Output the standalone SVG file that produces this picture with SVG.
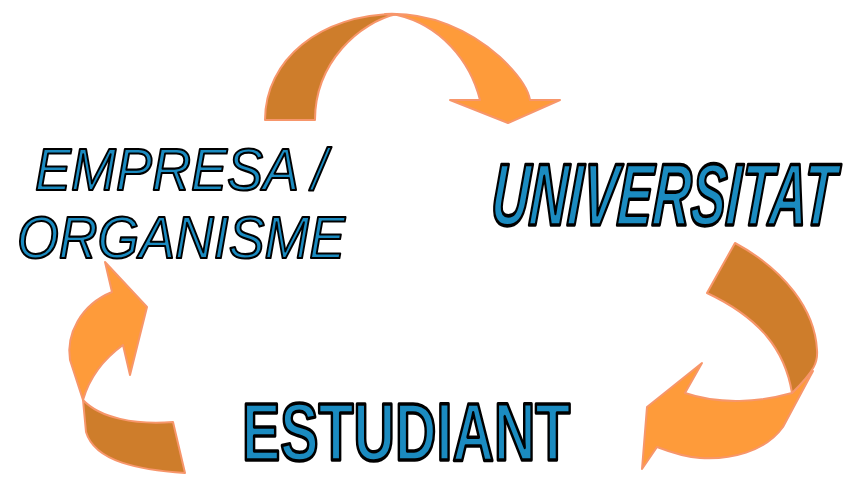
<svg xmlns="http://www.w3.org/2000/svg" width="848" height="477" viewBox="0 0 848 477">
<style>
.dk{fill:#CE7D2B;stroke:#F7966B;stroke-width:2;stroke-linejoin:round}
.lt{fill:#FE9B3A;stroke:#F7966B;stroke-width:2;stroke-linejoin:round}
.lbl{fill:#1B8BC0;stroke:#000;font-family:"Liberation Sans",Arial,sans-serif;vector-effect:non-scaling-stroke;stroke-linejoin:round}
</style>
<rect width="848" height="477" fill="#fff"/>
<g id="connectors">
  <g id="arrow-top">
    <path class="dk" d="M265,120 C265,60 320,14 397,14 C360,22 315,62 315,120 Z"/>
    <path class="lt" d="M385,14 C430,12 470,30 500,57 C518,74 528,88 530,100 L560,100 L508,123 L450,100 L480,100 C470,60 440,25 397,15 Z"/>
  </g>
  <g id="arrow-right">
    <path class="lt" d="M813,371 L783,427 C765,452 730,460 700,458 C685,457 670,452 657,447 L642,469 L647,407 L702,363 L685,393 C720,405 760,402 792,393 Z"/>
    <path class="dk" d="M735,243 C785,270 815,310 817,350 C818,362 815,370 792,393 C785,350 760,318 707,293 Z"/>
  </g>
  <g id="arrow-left">
    <path class="dk" d="M83,400 C100,418 135,425 173,422 L185,473 C140,470 95,462 86,432 Z"/>
    <path class="lt" d="M105,262 L147,307 L130,375 L123,345 C105,358 90,376 83,400 L70,360 C66,335 80,305 112,292 Z"/>
  </g>
</g>
<g id="node-empresa">
  <text class="lbl" transform="translate(35,190) scale(0.9,1)" font-size="60" font-style="italic" stroke-width="2">EMPRESA /</text>
  <text class="lbl" transform="translate(17,258) scale(0.895,1)" font-size="60" font-style="italic" stroke-width="2">ORGANISME</text>
</g>
<g id="node-universitat">
  <text class="lbl" transform="translate(490,225) scale(0.6,1) skewX(-6)" font-size="88" font-weight="bold" font-style="italic" stroke-width="3">UNIVERSITAT</text>
</g>
<g id="node-estudiant">
  <text class="lbl" transform="translate(242,460) scale(0.7,1)" font-size="82" font-weight="bold" stroke-width="3">ESTUDIANT</text>
</g>
</svg>
